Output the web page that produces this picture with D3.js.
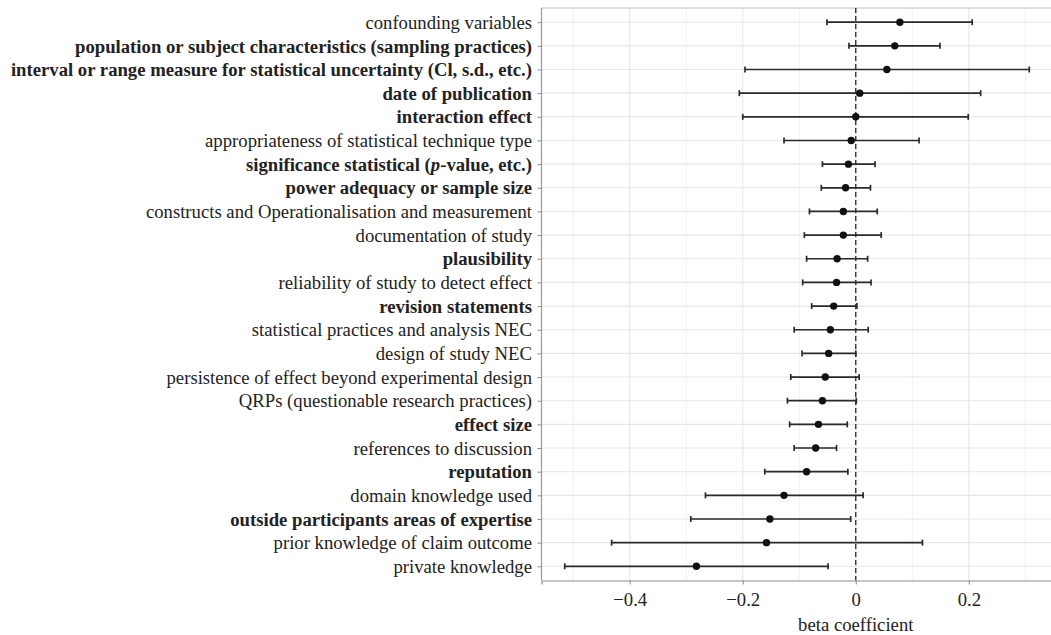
<!DOCTYPE html>
<html>
<head>
<meta charset="utf-8">
<script src="https://cdn.jsdelivr.net/npm/d3@7/dist/d3.min.js"></script>
<style>
  html, body { margin: 0; padding: 0; background: #fff; }
  svg { display: block; }
  text { font-family: "Liberation Serif", "Times New Roman", serif; fill: #222; }
</style>
</head>
<body>
<svg id="chart" width="1051" height="635"></svg>
<script>
// ---- data (top to bottom as displayed) ----
const categories = [
  "confounding variables",
  "population or subject characteristics (sampling practices)",
  "interval or range measure for statistical uncertainty (Cl, s.d., etc.)",
  "date of publication",
  "interaction effect",
  "appropriateness of statistical technique type",
  "significance statistical (p-value, etc.)",
  "power adequacy or sample size",
  "constructs and Operationalisation and measurement",
  "documentation of study",
  "plausibility",
  "reliability of study to detect effect",
  "revision statements",
  "statistical practices and analysis NEC",
  "design of study NEC",
  "persistence of effect beyond experimental design",
  "QRPs (questionable research practices)",
  "effect size",
  "references to discussion",
  "reputation",
  "domain knowledge used",
  "outside participants areas of expertise",
  "prior knowledge of claim outcome",
  "private knowledge"
];
const boldFlags = [0,1,1,1,1,0,1,1,0,0,1,0,1,0,0,0,0,1,0,1,0,1,0,0];
const estimate = [0.078, 0.069, 0.055, 0.007, 0.000, -0.008, -0.013, -0.018,
  -0.022, -0.022, -0.033, -0.034, -0.039, -0.045, -0.048, -0.054,
  -0.059, -0.066, -0.071, -0.087, -0.127, -0.152, -0.158, -0.282];
const lower = [-0.051, -0.012, -0.196, -0.206, -0.200, -0.127, -0.059, -0.061,
  -0.082, -0.091, -0.087, -0.094, -0.078, -0.109, -0.095, -0.115,
  -0.121, -0.117, -0.109, -0.161, -0.266, -0.292, -0.432, -0.515];
const upper = [0.206, 0.149, 0.307, 0.221, 0.199, 0.112, 0.034, 0.026,
  0.038, 0.045, 0.021, 0.027, 0.002, 0.022, 0.000, 0.006,
  0.001, -0.015, -0.034, -0.014, 0.013, -0.009, 0.118, -0.049];
const xTicks = [-0.4, -0.2, 0, 0.2];
const xMinorTicks = [-0.5, -0.3, -0.1, 0.1, 0.3];
const xTitle = "beta coefficient";

const rows = categories.map((c, i) => ({c, b: boldFlags[i], est: estimate[i], lo: lower[i], hi: upper[i]}));

const svg = d3.select("#chart");
const panel = {left: 541.5, top: 8, bottom: 580.5};

const lo = d3.min(lower), hi = d3.max(upper), ex = (hi - lo) * 0.05;
const x = d3.scaleLinear().domain([lo - ex, hi + ex]).range([panel.left, 1052.5]);
const y = d3.scalePoint().domain(categories).range([panel.top, panel.bottom]).padding(0.6);

const pr = x.range()[1];

// grid
const g = svg.append("g");
g.selectAll(".minor").data(xMinorTicks).join("line")
  .attr("x1", d => x(d)).attr("x2", d => x(d))
  .attr("y1", panel.top).attr("y2", panel.bottom)
  .attr("stroke", "#f0f0f0").attr("stroke-width", 1);
g.selectAll(".major").data(xTicks).join("line")
  .attr("x1", d => x(d)).attr("x2", d => x(d))
  .attr("y1", panel.top).attr("y2", panel.bottom)
  .attr("stroke", "#e6e6e6").attr("stroke-width", 1.1);
g.selectAll(".hgrid").data(categories).join("line")
  .attr("x1", panel.left).attr("x2", pr)
  .attr("y1", d => y(d)).attr("y2", d => y(d))
  .attr("stroke", "#e6e6e6").attr("stroke-width", 1.1);

// top border
svg.append("line").attr("x1", panel.left).attr("x2", pr)
  .attr("y1", panel.top).attr("y2", panel.top)
  .attr("stroke", "#bdbdbd").attr("stroke-width", 1);

// zero dashed line
svg.append("line").attr("x1", x(0)).attr("x2", x(0))
  .attr("y1", panel.top).attr("y2", panel.bottom)
  .attr("stroke", "#222").attr("stroke-width", 1.3).attr("stroke-dasharray", "5,3");

// error bars
const eb = svg.append("g").attr("stroke", "#2a2a2a").attr("stroke-width", 1.7);
eb.selectAll(".bar").data(rows).join("line")
  .attr("x1", d => x(d.lo)).attr("x2", d => x(d.hi))
  .attr("y1", d => y(d.c)).attr("y2", d => y(d.c));
eb.selectAll(".capL").data(rows).join("line")
  .attr("x1", d => x(d.lo)).attr("x2", d => x(d.lo))
  .attr("y1", d => y(d.c) - 3).attr("y2", d => y(d.c) + 3);
eb.selectAll(".capR").data(rows).join("line")
  .attr("x1", d => x(d.hi)).attr("x2", d => x(d.hi))
  .attr("y1", d => y(d.c) - 3).attr("y2", d => y(d.c) + 3);

// points
svg.append("g").selectAll("circle").data(rows).join("circle")
  .attr("cx", d => x(d.est)).attr("cy", d => y(d.c)).attr("r", 3.7)
  .attr("fill", "#111");

// x axis
const xAxis = d3.axisBottom(x).tickValues(xTicks).tickSize(4).tickPadding(8)
  .tickFormat(d => d === 0 ? "0" : d3.format(".1f")(d));
const xa = svg.append("g").attr("transform", `translate(0,${panel.bottom})`).call(xAxis);
xa.select(".domain").attr("stroke", "#8c8c8c").attr("stroke-width", 1.2);
xa.selectAll(".tick line").attr("stroke", "#8c8c8c");
xa.selectAll(".tick text").attr("font-size", 18.7).attr("fill", "#333")
  .attr("font-family", "Liberation Serif, serif");

// y axis
const yAxis = d3.axisLeft(y).tickSize(4).tickPadding(5).tickFormat("");
const ya = svg.append("g").attr("transform", `translate(${panel.left},0)`).call(yAxis);
ya.select(".domain").attr("stroke", "#9a9a9a").attr("stroke-width", 1.2).attr("d", `M0,${panel.top}V${panel.bottom}`);
ya.selectAll(".tick line").attr("stroke", "#8c8c8c");

// y labels with bold / italic handling
ya.selectAll(".tick").each(function(d) {
  const r = rows.find(o => o.c === d);
  const t = d3.select(this).append("text")
    .attr("x", -9.5).attr("dy", "0.33em")
    .attr("text-anchor", "end")
    .attr("font-size", 18.7)
    .attr("fill", "#222")
    .attr("font-weight", r.b ? "bold" : "normal");
  if (d.includes("(p-value")) {
    const parts = d.split("p-value");
    t.append("tspan").text(parts[0]);
    t.append("tspan").attr("font-style", "italic").text("p");
    t.append("tspan").text("-value" + parts[1]);
  } else {
    t.text(d);
  }
});

// x title
svg.append("text").attr("x", x(0)).attr("y", 631)
  .attr("text-anchor", "middle").attr("font-size", 18.7).attr("fill", "#222")
  .text(xTitle);
</script>
</body>
</html>
